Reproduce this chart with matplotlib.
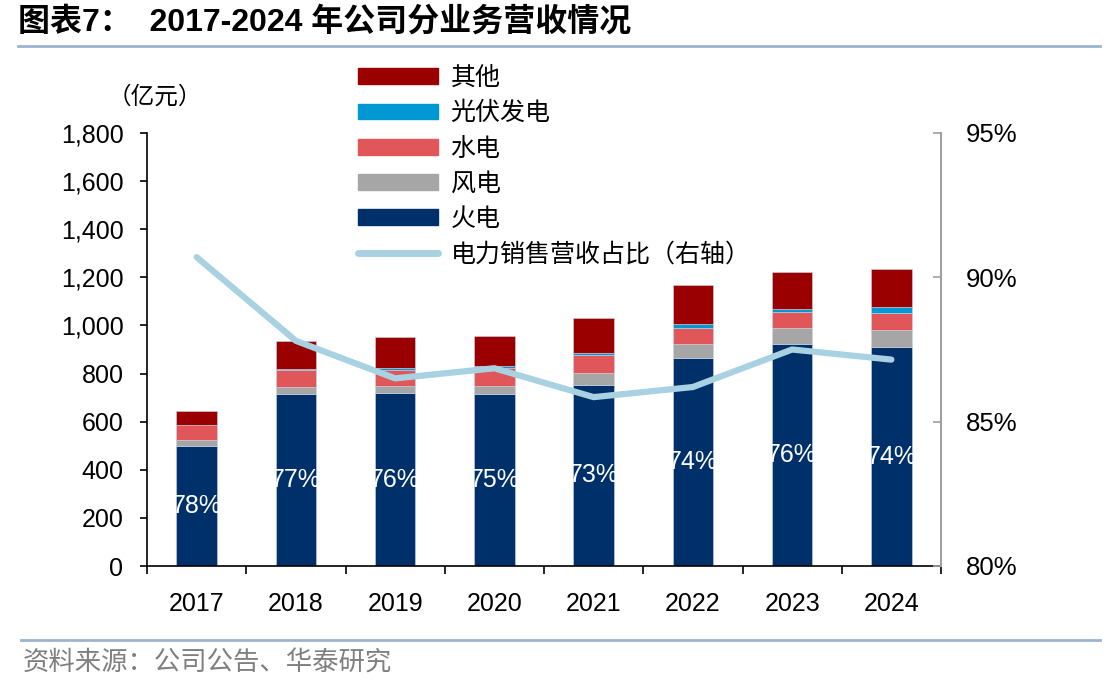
import matplotlib.pyplot as plt
import numpy as np
from matplotlib.lines import Line2D
from matplotlib.patches import Patch
from matplotlib.ticker import FuncFormatter

CJK = ['Liberation Sans', 'Noto Sans CJK SC']

years = ['2017', '2018', '2019', '2020', '2021', '2022', '2023', '2024']
thermal = [500, 715, 719, 715, 754, 865, 924, 910]   # 火电
wind = [24, 29, 29, 33, 47, 58, 65, 71]               # 风电
hydro = [62, 69, 68, 74, 77, 68, 65, 71]              # 水电
solar = [0, 7, 7, 10, 8, 17, 15, 25]                  # 光伏发电
other = [58, 114, 129, 125, 146, 160, 153, 157]       # 其他
thermal_share = ['78%', '77%', '76%', '75%', '73%', '74%', '76%', '74%']
power_share = [90.7, 87.8, 86.5, 86.85, 85.85, 86.2, 87.5, 87.15]  # 电力销售营收占比 %

c_thermal = '#00306A'
c_wind = '#A6A6A6'
c_hydro = '#E15759'
c_solar = '#0098D4'
c_other = '#9B0000'
c_line = '#A8D1E1'

fig = plt.figure(figsize=(11.12, 6.94), dpi=100)
ax = fig.add_axes([147 / 1112, 1 - 566 / 694, (941 - 147) / 1112, (566 - 133) / 694])
ax2 = ax.twinx()

x = np.arange(len(years))
w = 0.41
bottom = np.zeros(len(years))
series = [(thermal, c_thermal, '火电'), (wind, c_wind, '风电'), (hydro, c_hydro, '水电'),
          (solar, c_solar, '光伏发电'), (other, c_other, '其他')]
bars = {}
for vals, col, name in series:
    bars[name] = ax.bar(x, vals, w, bottom=bottom, color=col, edgecolor='#C9D6E6', linewidth=0.4, zorder=2)
    bottom += np.array(vals)

ax.bar_label(bars['火电'], labels=thermal_share, label_type='center', color='white',
             fontsize=18, family='Liberation Sans')

ax.set_xlim(-0.5, 7.5)
ax.set_ylim(0, 1800)
ax.set_yticks(np.arange(0, 1801, 200))
ax.yaxis.set_major_formatter(FuncFormatter(lambda v, p: f'{int(v):,}'))
ax.set_xticks(np.arange(-0.5, 8, 1))
ax.set_xticklabels([])
ax.set_xticks(x, minor=True)
ax.set_xticklabels(years, minor=True)
ax.tick_params(axis='x', which='major', direction='out', length=6, width=1.2, color='black')
ax.tick_params(axis='x', which='minor', length=0, pad=19, labelsize=18)
ax.tick_params(axis='y', direction='out', length=5, width=1.2, pad=12, labelsize=18)
for lab in ax.get_xticklabels(minor=True) + ax.get_yticklabels():
    lab.set_family('Liberation Sans')
ax.spines['top'].set_visible(False)
ax.spines['right'].set_visible(False)
ax.spines['left'].set_linewidth(1.2)
ax.spines['bottom'].set_linewidth(1.2)

ax2.plot(x, power_share, color=c_line, lw=4.5, solid_capstyle='round', solid_joinstyle='round', zorder=3)
ax2.set_ylim(80, 95)
ax2.set_yticks([80, 85, 90, 95])
ax2.yaxis.set_major_formatter(FuncFormatter(lambda v, p: f'{int(v)}%'))
ax2.tick_params(axis='y', direction='in', length=6, width=1.2, color='#A0A0A0', pad=18, labelsize=18.5)
for lab in ax2.get_yticklabels():
    lab.set_family('Liberation Sans')
for s in ['top', 'left', 'bottom']:
    ax2.spines[s].set_visible(False)
ax2.spines['right'].set_color('#A0A0A0')
ax2.spines['right'].set_linewidth(1.5)

handles = [Patch(color=c_other), Patch(color=c_solar), Patch(color=c_hydro),
           Patch(color=c_wind), Patch(color=c_thermal),
           Line2D([0], [0], color=c_line, lw=5, solid_capstyle='round')]
labels = ['其他', '光伏发电', '水电', '风电', '火电', '电力销售营收占比（右轴）']
ax2.legend(handles, labels, loc='upper left', bbox_to_anchor=(358 / 1112, 1 - 65 / 694),
           bbox_transform=fig.transFigure, frameon=False, handlelength=3.2, handleheight=0.6,
           handletextpad=0.5, labelspacing=0.37, borderpad=0, borderaxespad=0,
           prop={'family': 'Noto Sans CJK SC', 'size': 18})

fig.text(108 / 1112, 1 - 97 / 694, '（亿元）', fontsize=17, family='Noto Sans CJK SC', va='center')

fig.text(18 / 1112, 1 - 22 / 694, '图表7：  2017-2024 年公司分业务营收情况', fontsize=23,
         weight='bold', family=CJK, va='center')
fig.add_artist(Line2D([18 / 1112, 1100 / 1112], [1 - 46 / 694] * 2, color='#9DB3CF', lw=2))
fig.add_artist(Line2D([21 / 1112, 1100 / 1112], [1 - 640 / 694] * 2, color='#9DB3CF', lw=2))
fig.text(23 / 1112, 1 - 663 / 694, '资料来源：公司公告、华泰研究', fontsize=19,
         family='Noto Sans CJK SC', color='#7F7F7F', va='center')

fig.savefig('out.png', dpi=100)
